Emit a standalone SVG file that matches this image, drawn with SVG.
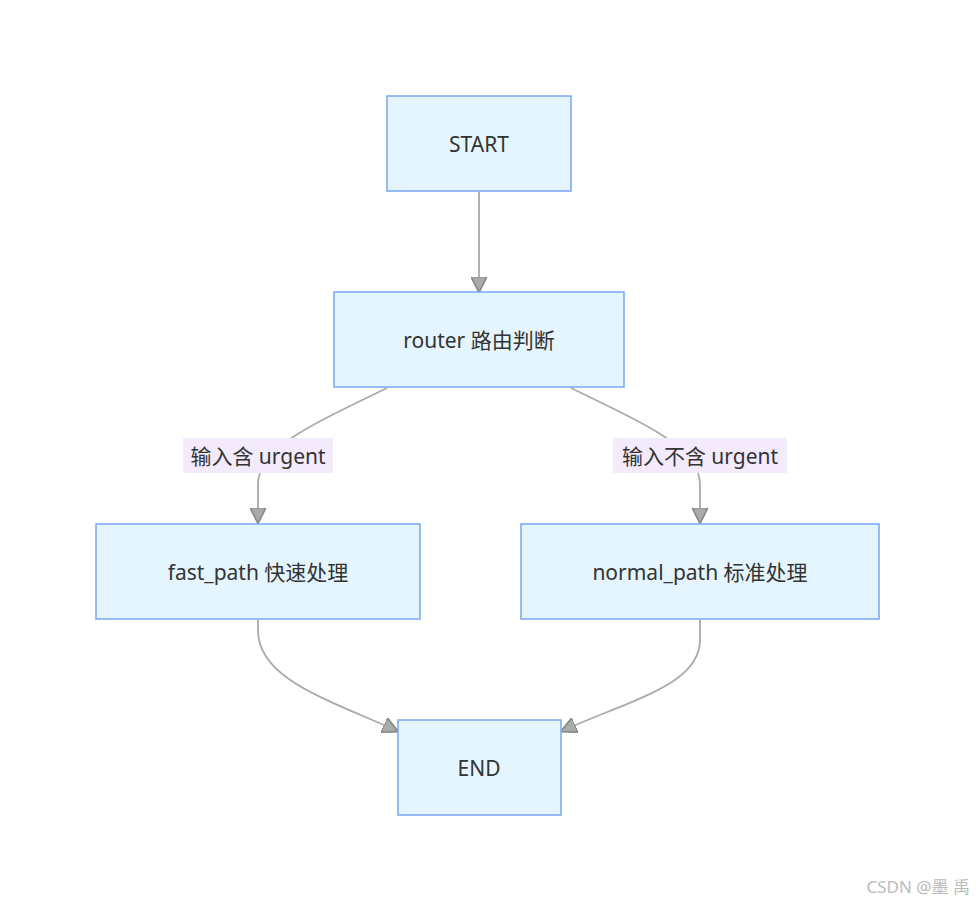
<svg xmlns="http://www.w3.org/2000/svg" width="976" height="912" viewBox="0 0 976 912">
<style>
.n{fill:#e4f5fd;stroke:#78a6f4;stroke-width:1.5}
.t{font-family:"Noto Sans","Noto Sans CJK SC",sans-serif;font-size:21px;fill:#333;text-anchor:middle;dominant-baseline:central}
.e{fill:none;stroke:#aaaaaa;stroke-width:1.8;marker-end:url(#a)}
.lb{fill:#f3eafc}
</style>
<defs><marker id="a" viewBox="0 0 10 10" refX="9" refY="5" markerWidth="8" markerHeight="8" orient="auto" markerUnits="userSpaceOnUse"><path d="M0,0L10,5L0,10z" fill="#999" stroke="#888"/></marker>
<marker id="b" viewBox="0 0 10 10" refX="9" refY="5" markerWidth="16" markerHeight="16" orient="auto" markerUnits="userSpaceOnUse"><path d="M0,0L10,5L0,10z" fill="#aaa" stroke="#888"/></marker></defs>
<rect width="976" height="912" fill="#fff"/>
<g id="edges">
<path class="e" style="marker-end:url(#b)" d="M479,192 L479,291"/>
<path class="e" style="marker-end:url(#b)" d="M387,388 C300,430 258,450 258,485 L258,522"/>
<path class="e" style="marker-end:url(#b)" d="M571,388 C658,430 700,450 700,485 L700,522"/>
<path class="e" style="marker-end:url(#b)" d="M258,620 L258,630 C258,680 330,700 397,731"/>
<path class="e" style="marker-end:url(#b)" d="M700,620 L700,640 C700,685 630,700 562,731"/>
<rect class="lb" x="183" y="438" width="150" height="35"/>
<text class="t" x="258" y="456">输入含 urgent</text>
<rect class="lb" x="613" y="438" width="174" height="35"/>
<text class="t" x="700" y="456">输入不含 urgent</text>
</g>
<g id="start"><rect class="n" x="387" y="96" width="184" height="95"/><text class="t" x="479" y="144">START</text></g>
<g id="router"><rect class="n" x="334" y="292" width="290" height="95"/><text class="t" x="479" y="340">router 路由判断</text></g>
<g id="fast"><rect class="n" x="96" y="524" width="324" height="95"/><text class="t" x="258" y="572">fast_path 快速处理</text></g>
<g id="normal"><rect class="n" x="521" y="524" width="358" height="95"/><text class="t" x="700" y="572">normal_path 标准处理</text></g>
<g id="end"><rect class="n" x="398" y="720" width="163" height="95"/><text class="t" x="479" y="768">END</text></g>
<text x="970" y="893" font-family="Noto Sans,Noto Sans CJK SC,sans-serif" font-size="17" fill="#bbb" text-anchor="end">CSDN @墨 禹</text>
</svg>
